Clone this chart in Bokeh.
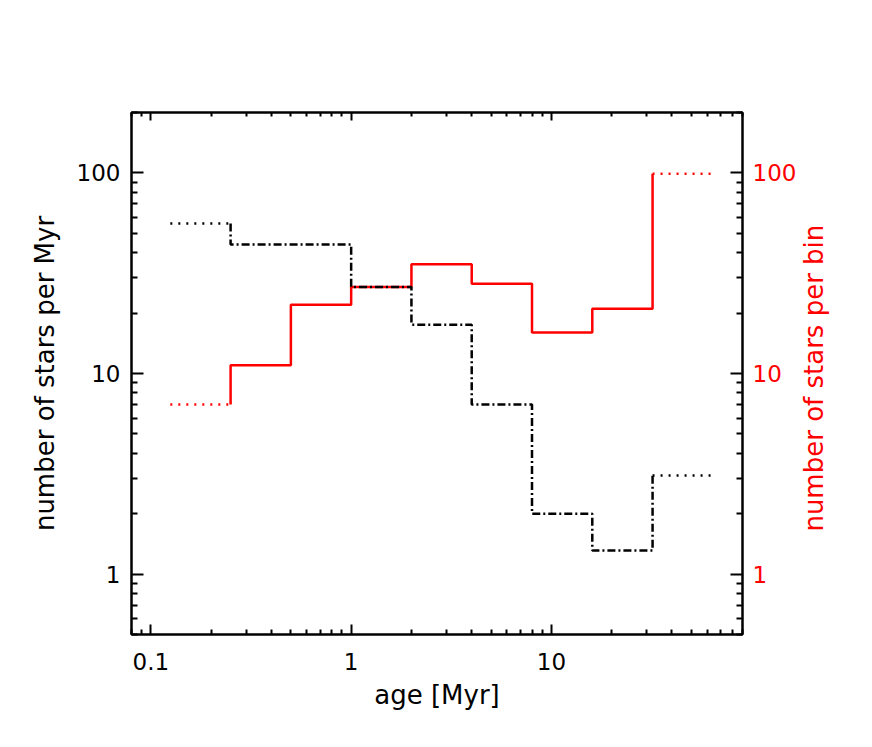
import math
from bokeh.plotting import figure
from bokeh.layouts import row
from bokeh.models import (Range1d, LogScale, LogAxis, FixedTicker,
                          CustomJSTickFormatter)
from bokeh.core.properties import value
from bokeh.embed import file_html
from bokeh.resources import INLINE

# ---- data ----
bin_edges = [0.125, 0.25, 0.5, 1, 2, 4, 8, 16, 32, 64]          # age [Myr]
stars_per_bin = [7, 11, 22, 27, 35, 28, 16, 21, 99]              # right axis (red)
stars_per_myr = [56, 44, 44, 27, 17.5, 7, 2, 1.31, 3.1]          # left axis (black)

x_major = [0.1, 1, 10]
y_major = [1, 10, 100]

X_RANGE = (0.08, 90)
Y_RANGE = (0.5, 200)

right_title_text = ["number of stars per bin"]

FONT = "DejaVu Sans"
RED = "#ff0000"
LABEL_SIZE = "26px"
TICK_SIZE = "23px"

BORDER_L, FRAME_W, BORDER_R = 131, 611, 52
BORDER_T, FRAME_H, BORDER_B = 112, 522, 97
TOTAL_H = BORDER_T + FRAME_H + BORDER_B
SIDE_W = 856 - (BORDER_L + FRAME_W + BORDER_R)


def minor_list(lo, hi):
    out = []
    for d in range(-3, 4):
        for m in range(2, 10):
            v = m * 10.0 ** d
            if lo <= v <= hi:
                out.append(v)
    return out


def step_parts(edges, vals):
    """Split a histogram outline into first bin, middle and last bin."""
    first_x = [edges[0], edges[1]]
    first_y = [vals[0], vals[0]]
    mid_x = [edges[1]]
    mid_y = [vals[0]]
    for i in range(1, len(vals) - 1):
        mid_x += [edges[i], edges[i + 1]]
        mid_y += [vals[i], vals[i]]
    mid_x.append(edges[-2])
    mid_y.append(vals[-1])
    last_x = [edges[-2], edges[-1]]
    last_y = [vals[-1], vals[-1]]
    return (first_x, first_y), (mid_x, mid_y), (last_x, last_y)


p = figure(x_axis_type="log", y_axis_type="log",
           x_range=Range1d(*X_RANGE), y_range=Range1d(*Y_RANGE),
           frame_width=FRAME_W, frame_height=FRAME_H,
           min_border_left=BORDER_L, min_border_right=BORDER_R,
           min_border_top=BORDER_T, min_border_bottom=BORDER_B,
           output_backend="svg", toolbar_location=None,
           background_fill_color="white", border_fill_color="white")
p.grid.visible = False
p.outline_line_color = "black"
p.outline_line_width = 2

p.extra_y_ranges = {"bin": Range1d(*Y_RANGE)}
p.extra_y_scales = {"bin": LogScale()}

fmt = CustomJSTickFormatter(code="return tick >= 1 ? tick.toFixed(0) : tick.toFixed(1);")
blank = CustomJSTickFormatter(code="return '';")

x_ticker = FixedTicker(ticks=x_major, minor_ticks=minor_list(*X_RANGE))
y_ticker = FixedTicker(ticks=y_major, minor_ticks=minor_list(*Y_RANGE))


def style_axis(ax, major_in, minor_in):
    ax.axis_line_width = 2
    ax.axis_line_color = "black"
    ax.major_tick_line_width = 2
    ax.minor_tick_line_width = 2
    ax.major_tick_line_color = "black"
    ax.minor_tick_line_color = "black"
    ax.major_tick_in = major_in
    ax.major_tick_out = 0
    ax.minor_tick_in = minor_in
    ax.minor_tick_out = 0
    ax.major_label_text_font = FONT
    ax.major_label_text_font_size = TICK_SIZE
    ax.major_label_text_color = "black"
    ax.axis_label_text_font = FONT
    ax.axis_label_text_font_size = LABEL_SIZE
    ax.axis_label_text_font_style = "normal"
    ax.axis_label_text_color = "black"


# bottom axis
xb = p.xaxis[0]
xb.ticker = x_ticker
xb.formatter = fmt
xb.axis_label = "age [Myr]"
style_axis(xb, 10, 5)
xb.major_label_standoff = 18
xb.axis_label_standoff = 7

# left axis
yl = p.yaxis[0]
yl.ticker = y_ticker
yl.formatter = fmt
yl.axis_label = "number of stars per Myr"
style_axis(yl, 12, 6)
yl.major_label_standoff = 11
yl.axis_label_standoff = 14

# top axis
xt = LogAxis(ticker=x_ticker, formatter=blank)
style_axis(xt, 8, 4)
p.add_layout(xt, "above")

# right axis (red labels)
yr = LogAxis(y_range_name="bin", ticker=y_ticker, formatter=fmt)
style_axis(yr, 12, 6)
yr.major_label_text_color = RED
yr.major_label_standoff = 10
p.add_layout(yr, "right")

LW = 2.5
# red: stars per bin (right axis)
(rf, rm, rl) = step_parts(bin_edges, stars_per_bin)
p.line(rf[0], rf[1], y_range_name="bin", line_color=RED, line_width=LW, line_dash="2 6")
p.line(rm[0], rm[1], y_range_name="bin", line_color=RED, line_width=LW)
p.line(rl[0], rl[1], y_range_name="bin", line_color=RED, line_width=LW, line_dash="2 6")

# black: stars per Myr (left axis)
(bf, bm, bl) = step_parts(bin_edges, stars_per_myr)
p.line(bf[0], bf[1], line_color="black", line_width=LW, line_dash="2 6")
p.line(bm[0], bm[1], line_color="black", line_width=LW, line_dash="8 3 2 3")
p.line(bl[0], bl[1], line_color="black", line_width=LW, line_dash="2 6")

# narrow side panel that holds the right-axis title, reading bottom-to-top
side = figure(width=SIDE_W, height=TOTAL_H,
              x_range=Range1d(0, SIDE_W), y_range=Range1d(0, TOTAL_H),
              x_axis_location=None, y_axis_location=None,
              min_border=0, output_backend="svg", toolbar_location=None,
              background_fill_color="white", border_fill_color="white")
side.grid.visible = False
side.outline_line_color = None
side.text(x=[14], y=[TOTAL_H - 372], text=right_title_text, angle=math.pi / 2,
          text_align="center", text_baseline="middle", text_color=RED,
          text_font=value(FONT), text_font_size=value(LABEL_SIZE))

layout = row(p, side)
open("out.html", "w").write(file_html(layout, INLINE))
